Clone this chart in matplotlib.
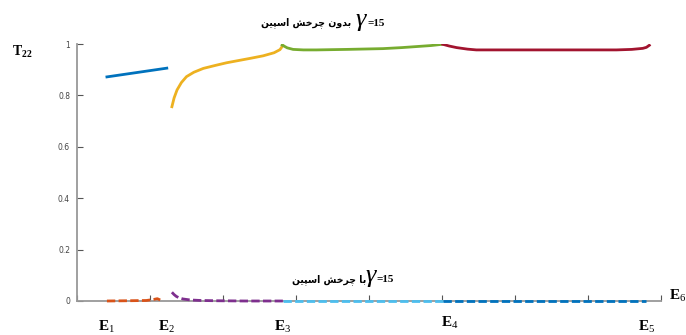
import matplotlib
matplotlib.use("Agg")
import matplotlib.pyplot as plt

plt.rcParams["mathtext.fontset"] = "custom"
plt.rcParams["mathtext.rm"] = "Liberation Serif"
plt.rcParams["mathtext.bf"] = "Liberation Serif:bold"
plt.rcParams["mathtext.it"] = "Liberation Serif:italic"

# T22 without spin rotation (solid curves)
blue_x = [0.41, 0.82, 1.23]
blue_y = [0.872, 0.889, 0.906]

yellow_x = [1.30, 1.33, 1.37, 1.43, 1.50, 1.60, 1.73, 1.90, 2.05, 2.20, 2.37, 2.55, 2.70, 2.78, 2.82]
yellow_y = [0.756, 0.790, 0.821, 0.850, 0.873, 0.890, 0.905, 0.917, 0.927, 0.935, 0.944, 0.954, 0.966, 0.978, 0.994]

green_x = [2.81, 2.88, 2.96, 3.10, 3.28, 3.70, 4.19, 4.45, 4.65, 4.85, 5.01]
green_y = [0.996, 0.985, 0.979, 0.977, 0.977, 0.979, 0.982, 0.986, 0.990, 0.994, 0.999]

red_x = [5.01, 5.10, 5.20, 5.35, 5.47, 6.00, 6.50, 7.00, 7.39, 7.60, 7.75, 7.80, 7.84]
red_y = [0.999, 0.992, 0.986, 0.980, 0.977, 0.977, 0.977, 0.977, 0.977, 0.979, 0.983, 0.987, 0.995]

# T22 with spin rotation (dashed curves)
orange_x = [0.41, 0.70, 0.95, 1.05, 1.10, 1.14]
orange_y = [0.0, 0.001, 0.002, 0.006, 0.009, 0.004]

purple_x = [1.30, 1.33, 1.36, 1.40, 1.45, 1.55, 1.70, 1.90, 2.30, 2.82]
purple_y = [0.034, 0.025, 0.018, 0.012, 0.008, 0.004, 0.002, 0.001, 0.0, 0.0]

cyan_x = [2.82, 3.50, 4.20, 5.01]
cyan_y = [0.0, 0.0, 0.0, 0.0]

navy_x = [5.01, 6.00, 7.00, 7.80]
navy_y = [0.0, 0.0, 0.0, 0.0]

energy_labels = ["1", "2", "3", "4", "5"]
energy_pos = [0.40, 1.22, 2.82, 5.10, 7.80]
energy_drop = [-0.10, -0.10, -0.10, -0.085, -0.10]

y_ticks = [0, 0.2, 0.4, 0.6, 0.8, 1]

no_spin = "\ufe91\ufeaa\ufeed\ufee5 \ufb7c\ufeae\ufea7\ufeb6 \ufe8d\ufeb3\ufb59\ufef4\ufee6"[::-1]
with_spin = "\ufe91\ufe8e \ufb7c\ufeae\ufea7\ufeb6 \ufe8d\ufeb3\ufb59\ufef4\ufee6"[::-1]

fig = plt.figure(figsize=(6.86, 3.35), dpi=100)
ax = fig.add_axes([77 / 686, 34 / 335, 584 / 686, 257 / 335])

lw = 2.0
dash = (0, (3, 1.2))
ax.plot(blue_x, blue_y, color="#0072BD", lw=lw)
ax.plot(yellow_x, yellow_y, color="#EDB120", lw=lw)
ax.plot(green_x, green_y, color="#77AC30", lw=lw)
ax.plot(red_x, red_y, color="#A2142F", lw=lw)

for xs, ys, c in [(orange_x, orange_y, "#D95319"), (purple_x, purple_y, "#7E2F8E"),
                  (cyan_x, cyan_y, "#4DBEEE"), (navy_x, navy_y, "#0072BD")]:
    ax.plot(xs, ys, color=c, lw=lw, ls=dash, zorder=3, clip_on=False)

ax.set_xlim(0, 8)
ax.set_ylim(0, 1)
ax.set_xticks(range(0, 9))
ax.set_xticklabels([])
ax.set_yticks(y_ticks)
ax.set_yticklabels(["0", "0.2", "0.4", "0.6", "0.8", "1"])
ax.tick_params(axis="both", direction="in", length=4, color="#555555",
               labelsize=5.5, labelcolor="#444444", pad=5)
for side in ["top", "right"]:
    ax.spines[side].set_visible(False)
for side in ["left", "bottom"]:
    ax.spines[side].set_color("#999999")
    ax.spines[side].set_linewidth(1.3)

for lab, xp, yp in zip(energy_labels, energy_pos, energy_drop):
    ax.text(xp, yp, r"$\mathbf{E}_{\mathrm{" + lab + "}}$", ha="center", va="center",
            fontsize=11, transform=ax.get_xaxis_transform(), clip_on=False)
fig.text(669 / 686, 1 - 296 / 335, r"$\mathbf{E}_{\mathrm{6}}$", ha="left", va="center", fontsize=11)

fig.text(12 / 686, 1 - 52 / 335, r"$\mathbf{T}_{\mathbf{22}}$", ha="left", va="center", fontsize=10)

fig.text(351 / 686, 1 - 23 / 335, no_spin, ha="right", va="center",
         fontsize=7.5, fontweight="bold", fontstretch="condensed", family="DejaVu Sans")
fig.text(361 / 686, 1 - 20 / 335, "\u03b3", ha="center", va="center",
         fontsize=19, style="italic", family="Liberation Serif")
fig.text(367 / 686, 1 - 24 / 335, "=15", ha="left", va="center",
         fontsize=8, fontweight="bold", family="Liberation Serif")

fig.text(366 / 686, 1 - 280 / 335, with_spin, ha="right", va="center",
         fontsize=7.5, fontweight="bold", fontstretch="condensed", family="DejaVu Sans")
fig.text(371 / 686, 1 - 276 / 335, "\u03b3", ha="center", va="center",
         fontsize=19, style="italic", family="Liberation Serif")
fig.text(376 / 686, 1 - 280 / 335, "=15", ha="left", va="center",
         fontsize=8, fontweight="bold", family="Liberation Serif")

fig.savefig("out.png", dpi=100)
